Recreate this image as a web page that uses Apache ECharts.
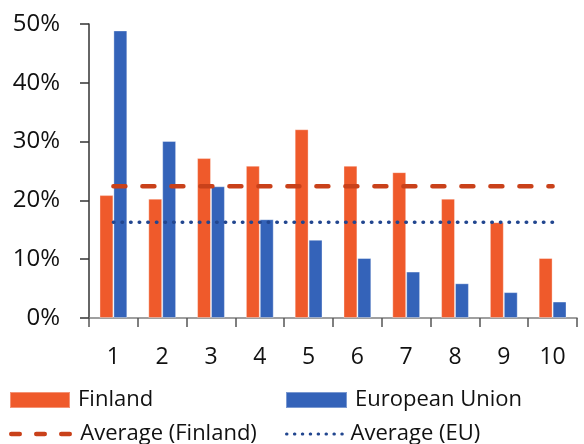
<!DOCTYPE html>
<html><head><meta charset="utf-8">
<script src="https://cdn.jsdelivr.net/npm/echarts@6/dist/echarts.min.js"></script>
<style>html,body{margin:0;padding:0;background:#fff}#c{width:584px;height:444px}</style>
</head><body><div id="c"></div>
<script>
const categories = ['1','2','3','4','5','6','7','8','9','10'];
const finland = [20.9, 20.3, 27.2, 25.9, 32.1, 25.9, 24.8, 20.3, 16.3, 10.2];
const eu = [48.9, 30.1, 22.4, 16.8, 13.3, 10.2, 7.9, 5.9, 4.4, 2.8];
const avgFinland = 22.4;
const avgEU = 16.3;
const yTicks = [0, 10, 20, 30, 40, 50];

const FONT = '"Open Sans", sans-serif';
const orange = '#EF5A2B';
const blue = '#3463B9';
const dashColor = '#C9411A';
const dotColor = '#22468F';

const dashStyle = {color: dashColor, width: 4.5, type: [12, 17], cap: 'round'};
const dotStyle = {color: dotColor, width: 3.5, type: [0.5, 8.1], cap: 'round'};

const chart = echarts.init(document.getElementById('c'));
const legendText = {fontSize: 22, color: '#111', fontFamily: FONT, padding: [0, 0, 0, 3]};
chart.setOption({
  animation: false,
  grid: {left: 89, right: 7, top: 24, bottom: 126, containLabel: false},
  legend: [
    {data: ['Finland'], left: 9, top: 389, itemWidth: 60, itemHeight: 16, itemGap: 0, icon: 'rect', textStyle: legendText, padding: 0},
    {data: ['European Union'], left: 285, top: 389, itemWidth: 61, itemHeight: 16, icon: 'rect', textStyle: legendText, padding: 0},
    {data: ['Average (Finland)'], left: 9, top: 423, itemWidth: 61, itemHeight: 16, textStyle: legendText, padding: 0,
     itemStyle: {opacity: 0}, lineStyle: Object.assign({}, dashStyle, {type: [8.5, 16.5]})},
    {data: ['Average (EU)'], left: 285, top: 423, itemWidth: 56, itemHeight: 16, textStyle: legendText, padding: 0,
     itemStyle: {opacity: 0}, lineStyle: Object.assign({}, dotStyle, {width: 3, type: [0.5, 7.4]})}
  ],
  xAxis: {
    type: 'category', data: categories, boundaryGap: true,
    axisLine: {show: true, lineStyle: {color: '#808080', width: 1.5}},
    axisTick: {show: true, length: 9, lineStyle: {color: '#555', width: 1.5}},
    axisLabel: {fontSize: 23, color: '#111', fontFamily: FONT, margin: 28}
  },
  yAxis: {
    type: 'value', min: yTicks[0], max: yTicks[yTicks.length - 1], interval: 10,
    splitLine: {show: false},
    axisLine: {show: true, lineStyle: {color: '#333', width: 1.5}},
    axisTick: {show: true, length: 9, lineStyle: {color: '#333', width: 1.5}},
    axisLabel: {fontSize: 24, color: '#111', fontFamily: FONT, margin: 29, formatter: v => v + '%'}
  },
  series: [
    {name: 'Finland', type: 'bar', data: finland, barGap: '0%', barCategoryGap: '43%',
     itemStyle: {color: orange, borderColor: 'rgba(255,255,255,0.35)', borderWidth: 1}},
    {name: 'European Union', type: 'bar', data: eu,
     itemStyle: {color: blue, borderColor: 'rgba(255,255,255,0.35)', borderWidth: 1}},
    {name: 'Average (Finland)', type: 'line', data: categories.map(() => avgFinland), symbol: 'none',
     lineStyle: dashStyle, itemStyle: {color: dashColor}, z: 5},
    {name: 'Average (EU)', type: 'line', data: categories.map(() => avgEU), symbol: 'none',
     lineStyle: dotStyle, itemStyle: {color: dotColor}, z: 5}
  ]
});
</script></body></html>
